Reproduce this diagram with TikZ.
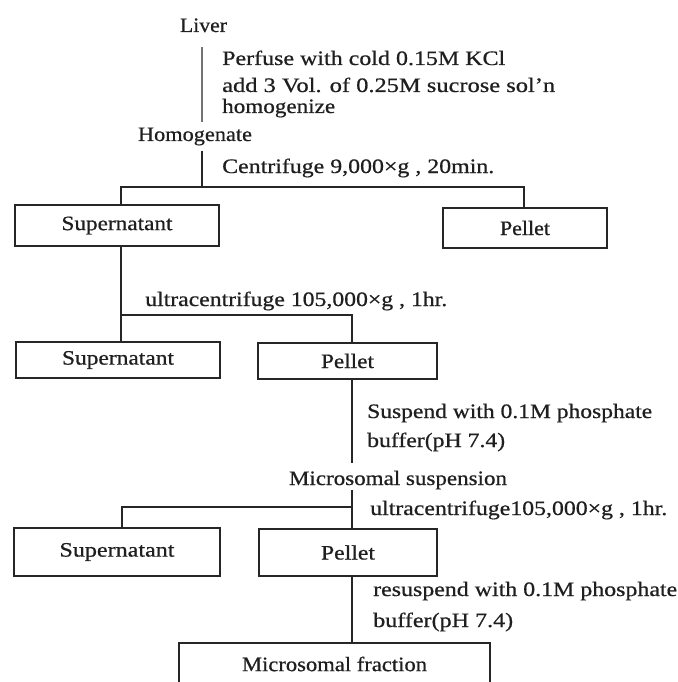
\documentclass[tikz,border=0pt]{standalone}
\usepackage{fontspec}
\setmainfont[FakeBold=0.6]{Liberation Serif}
\usepackage{graphicx}
\newcommand{\fw}[2]{\resizebox{#1pt}{\height}{#2}}
\begin{document}
\begin{tikzpicture}[x=1pt,y=-1pt,
  txt/.style={inner sep=0pt,font=\fontsize{20.5}{24}\selectfont,text=black!88},
  box/.style={draw=black!85,line width=2.2pt,inner sep=0pt,text=black!88,font=\fontsize{20.5}{24}\selectfont},
  conn/.style={draw=black!85,line width=1.8pt}]
\useasboundingbox (0,0) rectangle (677,682);
\clip (0,0) rectangle (677,682);
\fill[white] (0,0) rectangle (677,682);

% text nodes
\node[txt,anchor=base] (liver) at (203.5,32) {\fw{47}{Liver}};
\node[txt,anchor=base] (homog) at (195,141) {\fw{114}{Homogenate}};
\node[txt,anchor=base west] (l1) at (222,65) {\fw{283}{Perfuse with cold 0.15M KCl}};
\node[txt,anchor=base west] (l2) at (222,92) {\fw{333}{add 3 Vol. of 0.25M sucrose sol'n}};
\node[txt,anchor=base west] (l3) at (222,113) {\fw{113}{homogenize}};
\node[txt,anchor=base west] (l4) at (222,173) {\fw{272}{Centrifuge 9,000×g , 20min.}};
\node[txt,anchor=base west] (l5) at (145,306) {\fw{302}{ultracentrifuge 105,000×g , 1hr.}};
\node[txt,anchor=base west] (l6) at (367,418) {\fw{285}{Suspend with 0.1M phosphate}};
\node[txt,anchor=base west] (l7) at (367,447) {\fw{138}{buffer(pH 7.4)}};
\node[txt,anchor=base] (msus) at (398,485) {\fw{218}{Microsomal suspension}};
\node[txt,anchor=base west] (l8) at (370,515) {\fw{297}{ultracentrifuge105,000×g , 1hr.}};
\node[txt,anchor=base west] (l9) at (373,596) {\fw{304}{resuspend with 0.1M phosphate}};
\node[txt,anchor=base west] (l10) at (373,627) {\fw{140}{buffer(pH 7.4)}};

% boxes
\node[box,minimum width=204pt,minimum height=41pt] (sup1) at (117,225.5) {\fw{111}{Supernatant}};
\node[box,minimum width=164pt,minimum height=40pt] (pel1) at (525,228) {\fw{50}{Pellet}};
\node[box,minimum width=204pt,minimum height=36pt] (sup2) at (118,360) {\fw{112}{Supernatant}};
\node[box,minimum width=179pt,minimum height=36pt] (pel2) at (347.5,361) {\fw{53}{Pellet}};
\node[box,minimum width=206pt,minimum height=48pt] (sup3) at (117,552) {\fw{115}{Supernatant}};
\node[box,minimum width=178pt,minimum height=47pt] (pel3) at (348,552.5) {\fw{54}{Pellet}};
\node[box,minimum width=311pt,minimum height=42pt] (mfrac) at (334.5,664) {\fw{185}{Microsomal fraction}};

% junctions
\coordinate (j1) at (202,187);
\coordinate (h1l) at (121,187);
\coordinate (h1r) at (524,187);
\coordinate (h2l) at (121,315);
\coordinate (h2r) at (352,315);
\coordinate (h3l) at (122,507);
\coordinate (h3r) at (352,507);

% connectors
\draw[conn,draw=black!55,line width=2.2pt,shorten <=15pt,shorten >=5pt] (liver.south -| j1) -- (homog.north -| j1);
\draw[conn,shorten <=5pt] (homog.south -| j1) -- (j1);
\draw[conn] (sup1.north -| h1l) |- (h1r) -- (pel1.north -| h1r);
\draw[conn] (sup1.south -| h2l) -- (sup2.north -| h2l);
\draw[conn] (h2l) -- (h2r) -- (pel2.north -| h2r);
\draw[conn,shorten >=8pt] (pel2.south -| h2r) -- (msus.north -| h2r);
\draw[conn] (msus.south -| h2r) -- (pel3.north -| h2r);
\draw[conn] (h3r) -| (sup3.north -| h3l);
\draw[conn] (pel3.south -| h2r) -- (mfrac.north -| h2r);
\end{tikzpicture}
\end{document}
